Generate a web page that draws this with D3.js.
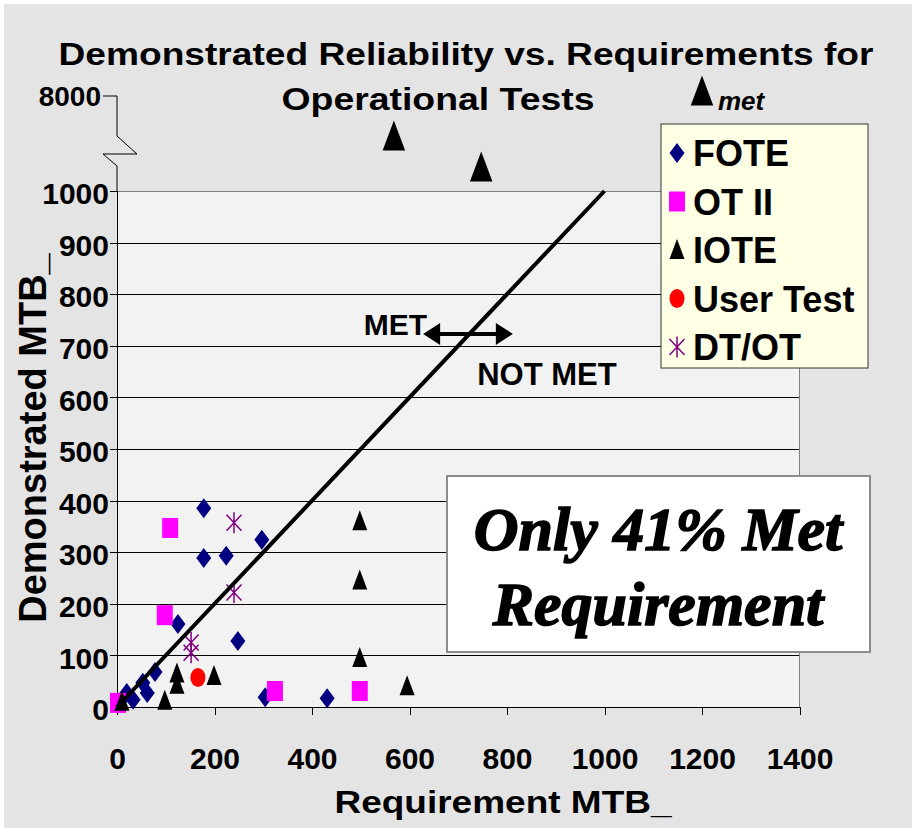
<!DOCTYPE html>
<html lang="en">
<head>
<meta charset="utf-8">
<title>Demonstrated Reliability vs. Requirements</title>
<script src="https://cdn.jsdelivr.net/npm/d3@7"></script>
<style>
  body { margin: 0; background: #fff; }
  svg text { font-family: "Liberation Sans", Arial, sans-serif; font-weight: bold; fill: #000; }
  .axis path, .axis line { stroke: #000; shape-rendering: crispEdges; }
  .axis text { font-size: 30px; }
  .grid line { stroke: #000; shape-rendering: crispEdges; }
  .grid path { stroke-width: 0; }
  .callout { font-family: "Liberation Serif", "Times New Roman", serif; font-style: italic; font-weight: 700;
             stroke: #000; stroke-width: 1.6px; }
</style>
</head>
<body>
<script>
// ---- data (requirement MTB_, demonstrated MTB_) ----
var fote = [[20,27],[33,14],[53,47],[62,27],[78,68],[125,161],[178,385],[178,289],
            [224,293],[248,128],[297,324],[304,19],[431,17]];
var otII = [[2,8],[98,178],[109,347],[324,31],[498,31]];
var iote = [[10,10],[98,12],[123,43],[123,65],[199,60],[498,95],[498,245],[498,360],[595,40]];
var ioteOffScale = [[568,4980],[747,2700]];   // above the axis break
var userTest = [[166,57]];
var dtot = [[152,105],[152,125],[240,222],[240,357]];

var xTicks = [0,200,400,600,800,1000,1200,1400];
var yTicks = [0,100,200,300,400,500,600,700,800,900,1000];
var legendLabels = ["FOTE","OT II","IOTE","User Test","DT/OT"];
var metLine = [[0,0],[1000,1000]];
var arrowX = [628, 812], arrowY = 723;

var w = 912, h = 828;

var svg = d3.select("body").append("svg")
  .attr("width", w).attr("height", h);

// backgrounds
svg.append("rect").attr("width", w).attr("height", h).attr("fill", "#fff");
svg.append("rect").attr("x", 4).attr("y", 4).attr("width", w - 4).attr("height", h - 4)
  .attr("fill", "#e4e4e4");

// scales
var x = d3.scaleLinear().domain([0, 1400]).range([117, 799.5]);
var y = d3.scaleLinear().domain([0, 1000]).range([707, 191]);
var yUp = d3.scaleLinear().domain([1000, 8000]).range([191, 96]);

// plot area
svg.append("rect")
  .attr("x", x(0)).attr("y", y(1000))
  .attr("width", x(1400) - x(0)).attr("height", y(0) - y(1000))
  .attr("fill", "#f2f2f2");

// gridlines
svg.append("g").attr("class", "grid")
  .attr("transform", "translate(" + x(0) + ",0)")
  .call(d3.axisLeft(y).tickValues(yTicks.slice(0, -1)).tickSize(-(x(1400) - x(0))).tickFormat(""));

// top / right borders of plot area
svg.append("line").attr("x1", x(0)).attr("x2", x(1400)).attr("y1", y(1000)).attr("y2", y(1000))
  .attr("stroke", "#808080").attr("shape-rendering", "crispEdges");
svg.append("line").attr("x1", x(1400)).attr("x2", x(1400)).attr("y1", y(1000)).attr("y2", y(0))
  .attr("stroke", "#808080").attr("shape-rendering", "crispEdges");

// axes
var gY = svg.append("g").attr("class", "axis")
  .attr("transform", "translate(" + x(0) + ",0)")
  .call(d3.axisLeft(y).tickValues(yTicks).tickFormat(d3.format("d")).tickSize(7).tickPadding(1));
gY.selectAll("text").attr("dy", "0.42em");

var gX = svg.append("g").attr("class", "axis")
  .attr("transform", "translate(0," + y(0) + ")")
  .call(d3.axisBottom(x).tickValues(xTicks).tickFormat(d3.format("d")).tickSize(8).tickPadding(33));

// broken axis up to 8000
var bx = x(0);
svg.append("path")
  .attr("d", "M" + (bx - 14) + "," + yUp(8000) + "H" + bx + "V136L" + (bx + 20) + ",154H" + (bx - 14) +
        "L" + bx + ",166V" + y(1000))
  .attr("fill", "none").attr("stroke", "#000").attr("stroke-width", 1);
svg.append("text").attr("x", bx - 16).attr("y", yUp(8000) + 10)
  .attr("text-anchor", "end").style("font-size", "28px").text("8000");

// axis titles
svg.append("text")
  .attr("transform", "translate(46," + 438 + ") rotate(-90)")
  .attr("text-anchor", "middle").style("font-size", "38px")
  .text("Demonstrated MTB_");
svg.append("text")
  .attr("x", 503).attr("y", 813).attr("text-anchor", "middle")
  .attr("textLength", 337).attr("lengthAdjust", "spacingAndGlyphs")
  .style("font-size", "32px").text("Requirement MTB_");

// title
svg.append("text").attr("x", 466).attr("y", 65).attr("text-anchor", "middle")
  .attr("textLength", 815).attr("lengthAdjust", "spacingAndGlyphs")
  .style("font-size", "31px").text("Demonstrated Reliability vs. Requirements for");
svg.append("text").attr("x", 438).attr("y", 110).attr("text-anchor", "middle")
  .attr("textLength", 313).attr("lengthAdjust", "spacingAndGlyphs")
  .style("font-size", "31px").text("Operational Tests");

// marker shapes
function diamond(g) {
  return g.append("path").attr("d", "M0,-10L7.5,0L0,10L-7.5,0Z").attr("fill", "#000080");
}
function square(g) {
  return g.append("rect").attr("x", -8).attr("y", -10).attr("width", 16).attr("height", 20).attr("fill", "#ff00ff");
}
function triangle(g, s) {
  s = s || 1;
  return g.append("path").attr("d", "M0," + (-11 * s) + "L" + (7.5 * s) + "," + (9 * s) + "L" + (-7.5 * s) + "," + (9 * s) + "Z")
    .attr("fill", "#000");
}
function circle(g) {
  return g.append("ellipse").attr("rx", 7.5).attr("ry", 9.5).attr("fill", "#ff0000");
}
function star(g) {
  return g.append("path").attr("d", "M0,-10.5V10.5M-7.5,-8L7.5,8M7.5,-8L-7.5,8")
    .attr("fill", "none").attr("stroke", "#800080").attr("stroke-width", 1.5);
}

var view = svg.append("g");

function plot(data, shape, yScale) {
  view.selectAll(null).data(data).enter().append("g")
    .attr("transform", function(d) { return "translate(" + x(d[0]) + "," + (yScale || y)(d[1]) + ")"; })
    .each(function() { shape(d3.select(this)); });
}
plot(dtot, star);
plot(fote, diamond);
plot(otII, square);
plot(userTest, circle);
plot(iote, triangle);
view.selectAll(null).data(ioteOffScale).enter().append("g")
  .attr("transform", function(d) { return "translate(" + x(d[0]) + "," + yUp(d[1]) + ")"; })
  .each(function() { triangle(d3.select(this), 1.5); });

// 1:1 line
svg.append("path")
  .attr("d", d3.line().x(function(d) { return x(d[0]); }).y(function(d) { return y(d[1]); })(metLine))
  .attr("stroke", "#000").attr("stroke-width", 4).attr("fill", "none");

// MET / NOT MET double arrow
var ax1 = x(arrowX[0]), ax2 = x(arrowX[1]), ay = y(arrowY);
svg.append("line").attr("x1", ax1 + 12).attr("x2", ax2 - 12).attr("y1", ay).attr("y2", ay)
  .attr("stroke", "#000").attr("stroke-width", 4);
svg.append("path")
  .attr("d", "M" + ax1 + "," + ay + "L" + (ax1 + 17) + "," + (ay - 11) + "V" + (ay + 11) + "Z" +
             "M" + ax2 + "," + ay + "L" + (ax2 - 17) + "," + (ay - 11) + "V" + (ay + 11) + "Z")
  .attr("fill", "#000");
svg.append("text").attr("x", ax1 + 4).attr("y", ay + 1).attr("text-anchor", "end")
  .style("font-size", "30px").text("MET");
svg.append("text").attr("x", ax1 + 54).attr("y", ay + 51)
  .style("font-size", "31px").text("NOT MET");

// "met" key above the chart
var mk = svg.append("g").attr("transform", "translate(" + x(1200) + "," + (yUp(8000) - 4) + ")");
triangle(mk, 1.5);
mk.append("text").attr("x", 16).attr("y", 18).style("font-size", "26px").style("font-style", "italic").text("met");

// legend
var leg = svg.append("g").attr("transform", "translate(661,124)");
leg.append("rect").attr("width", 207).attr("height", 244)
  .attr("fill", "#ffffe6").attr("stroke", "#333").attr("stroke-width", 1);
var shapes = [diamond, square, triangle, circle, star];
var items = leg.selectAll(".item").data(legendLabels).enter().append("g")
  .attr("class", "item")
  .attr("transform", function(d, i) { return "translate(16," + (29 + i * 48.5) + ")"; });
items.each(function(d, i) { shapes[i](d3.select(this)); });
items.append("text").attr("x", 16).attr("y", 13).style("font-size", "36px").text(function(d) { return d; });

// callout box
var box = svg.append("g");
box.append("rect").attr("x", 447).attr("y", 476).attr("width", 423).attr("height", 176)
  .attr("fill", "#fff").attr("stroke", "#8c8c8c").attr("stroke-width", 2);
box.selectAll(null).data(["Only 41% Met", "Requirement"]).enter().append("text")
  .attr("class", "callout")
  .attr("x", 658).attr("y", function(d, i) { return 550 + i * 75; })
  .attr("text-anchor", "middle")
  .style("font-size", "62px")
  .text(function(d) { return d; });
</script>
</body>
</html>
